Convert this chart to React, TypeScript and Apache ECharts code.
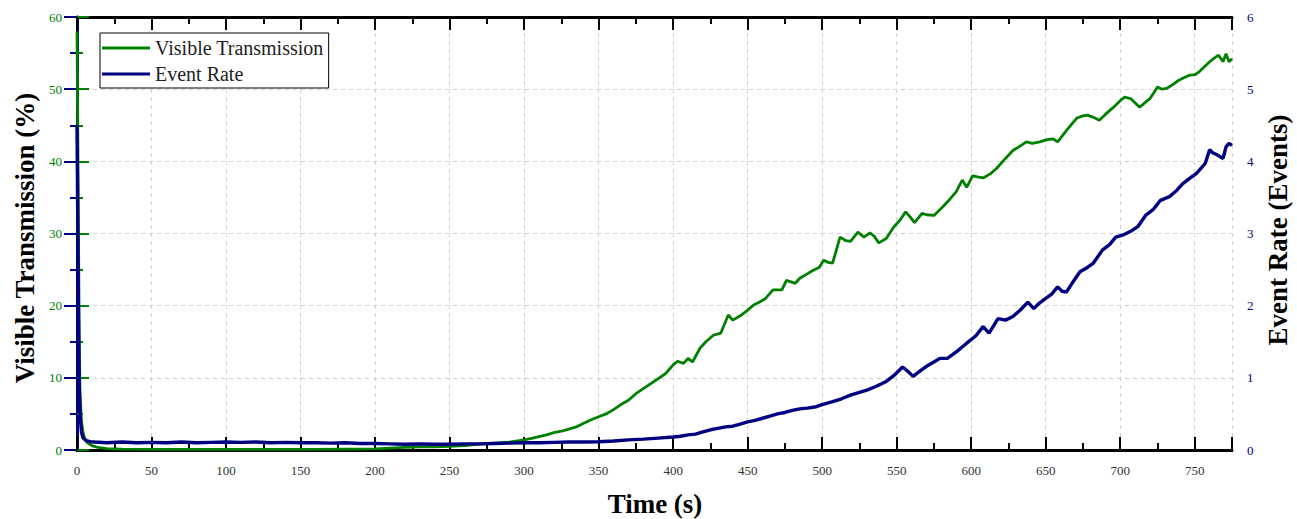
import React, { useEffect, useRef } from "react";
import * as echarts from "echarts";

// Visible transmission (%) vs time (s)
const timeGreen = [
  0, 0.5, 1, 1.5, 2, 3, 4, 5, 7, 10, 14, 20, 30, 50, 80, 120, 160, 200, 210, 220, 230, 240, 250, 260, 270, 280, 290,
  300, 305, 310, 315, 320, 325, 330, 335, 340, 345, 350, 355, 360, 365, 370, 375, 380, 385, 390, 395, 400, 403, 407,
  410, 413, 418, 422, 427, 432, 437, 440, 445, 449, 454, 458, 462, 467, 473, 476, 482, 485, 490, 494, 498, 501, 504,
  507, 512, 516, 519, 524, 528, 532, 535, 538, 543, 548, 552, 556, 559, 562, 567, 570, 575, 581, 585, 590, 594, 597,
  601, 605, 608, 613, 617, 623, 628, 632, 637, 641, 646, 651, 655, 658, 664, 668, 671, 675, 678, 682, 686, 690, 695,
  700, 703, 707, 713, 717, 720, 725, 728, 731, 735, 739, 742, 746, 750, 753, 757, 760, 763, 766, 769, 771, 773, 775,
];
const transmission = [
  58, 45, 30, 16, 8, 4, 2.5, 1.7, 1.0, 0.6, 0.35, 0.2, 0.12, 0.1, 0.1, 0.1, 0.1, 0.15, 0.25, 0.35, 0.45, 0.45, 0.5,
  0.6, 0.8, 0.95, 1.1, 1.4, 1.6, 1.85, 2.1, 2.4, 2.6, 2.9, 3.2, 3.7, 4.2, 4.6, 5.0, 5.6, 6.3, 6.9, 7.8, 8.5, 9.2,
  9.9, 10.6, 11.8, 12.3, 12.0, 12.7, 12.2, 14.1, 15.0, 15.9, 16.2, 18.7, 18.0, 18.6, 19.2, 20.1, 20.5, 21.0, 22.2,
  22.2, 23.5, 23.1, 23.8, 24.4, 24.9, 25.3, 26.3, 26.0, 25.9, 29.5, 29.0, 28.9, 30.2, 29.5, 30.1, 29.6, 28.7, 29.3,
  30.9, 31.8, 33.0, 32.3, 31.5, 32.8, 32.6, 32.5, 33.7, 34.6, 35.8, 37.4, 36.4, 38.0, 37.8, 37.7, 38.3, 39.0, 40.4,
  41.5, 42.0, 42.7, 42.5, 42.7, 43.0, 43.1, 42.7, 44.3, 45.3, 46.0, 46.3, 46.4, 46.1, 45.7, 46.5, 47.4, 48.4, 48.9,
  48.7, 47.5, 48.2, 48.7, 50.3, 50.0, 50.1, 50.6, 51.2, 51.5, 51.9, 52.0, 52.4, 53.2, 53.8, 54.3, 54.7, 53.8, 54.9,
  53.8, 54.2,
];

// Event rate (events) vs time (s)
const timeRate = [
  0, 0.5, 1, 1.5, 2, 3, 4, 6, 9, 12, 20, 30, 40, 50, 60, 70, 80, 90, 100, 110, 120, 130, 140, 150, 160, 170, 180, 190,
  200, 210, 220, 230, 240, 250, 260, 270, 280, 290, 300, 310, 320, 330, 340, 350, 360, 370, 380, 390, 400, 405, 410,
  415, 420, 425, 430, 435, 440, 445, 450, 455, 460, 465, 470, 475, 480, 485, 490, 496, 500, 507, 513, 519, 525, 530,
  536, 543, 548, 554, 558, 561, 566, 570, 575, 579, 584, 590, 597, 603, 608, 612, 618, 623, 628, 633, 638, 642, 646,
  650, 654, 658, 661, 664, 668, 673, 678, 682, 688, 693, 697, 702, 707, 712, 717, 722, 727, 733, 738, 742, 747, 751,
  754, 757, 760, 762, 765, 769, 771, 773, 775,
];
const eventRate = [
  4.5, 3.2, 1.8, 0.9, 0.5, 0.25, 0.17, 0.13, 0.115, 0.11, 0.1, 0.11, 0.1, 0.105, 0.1, 0.11, 0.1, 0.105, 0.11, 0.105,
  0.11, 0.1, 0.105, 0.1, 0.1, 0.095, 0.1, 0.09, 0.09, 0.085, 0.08, 0.085, 0.08, 0.08, 0.085, 0.085, 0.09, 0.095, 0.1,
  0.1, 0.105, 0.11, 0.11, 0.115, 0.125, 0.14, 0.15, 0.165, 0.18, 0.19, 0.21, 0.22, 0.25, 0.28, 0.3, 0.32, 0.33, 0.36,
  0.39, 0.41, 0.44, 0.47, 0.5, 0.52, 0.55, 0.57, 0.58, 0.6, 0.63, 0.67, 0.71, 0.76, 0.8, 0.83, 0.88, 0.95, 1.03, 1.15,
  1.08, 1.02, 1.1, 1.16, 1.22, 1.27, 1.27, 1.36, 1.48, 1.58, 1.71, 1.62, 1.82, 1.8, 1.85, 1.94, 2.05, 1.96, 2.04, 2.1,
  2.16, 2.26, 2.2, 2.19, 2.32, 2.47, 2.53, 2.59, 2.77, 2.85, 2.95, 2.98, 3.03, 3.1, 3.25, 3.33, 3.46, 3.51, 3.6, 3.69,
  3.77, 3.83, 3.9, 3.97, 4.16, 4.12, 4.09, 4.04, 4.2, 4.25, 4.22,
];

const seriesNames = ["Visible Transmission", "Event Rate"];
const titles = { x: "Time (s)", left: "Visible Transmission (%)", right: "Event Rate (Events)" };

const GREEN = "#008000";
const NAVY = "#000080";
const SERIF = '"Liberation Serif", "Times New Roman", serif';

export default function App() {
  const ref = useRef<HTMLDivElement>(null);
  useEffect(() => {
    document.body.style.margin = "0";
    if (!ref.current) return;
    const chart = echarts.init(ref.current, null, { renderer: "svg" });
    const labelFmt = (v: number) => (v % 50 === 0 ? String(v) : "");
    const xBase = {
      type: "value",
      min: 0,
      max: 775,
      gridIndex: 0,
    };
    chart.setOption({
      animation: false,
      backgroundColor: "#fff",
      grid: { left: 77, right: 65, top: 17, bottom: 69, containLabel: false },
      legend: {
        orient: "vertical",
        left: 100,
        top: 33,
        data: seriesNames,
        icon: "rect",
        itemWidth: 48,
        itemHeight: 3,
        itemGap: 6,
        padding: [5, 5, 4, 2],
        borderColor: "#000",
        borderWidth: 1,
        backgroundColor: "#fff",
        textStyle: { fontFamily: SERIF, fontSize: 20, color: "#222" },
      },
      xAxis: [
        {
          ...xBase,
          position: "bottom",
          interval: 25,
          axisLine: { show: true, lineStyle: { color: "#000", width: 3 } },
          axisTick: { show: true, inside: true, length: 7, lineStyle: { color: "#000", width: 2 } },
          axisLabel: { formatter: labelFmt, color: "#333", fontFamily: SERIF, fontSize: 13, margin: 14 },
          splitLine: { show: false },
        },
        {
          ...xBase,
          position: "bottom",
          interval: 50,
          axisLine: { show: false },
          axisTick: { show: true, inside: true, length: 13, lineStyle: { color: "#000", width: 2 } },
          axisLabel: { show: false },
          splitLine: { show: true, lineStyle: { color: "#d0d0d0", width: 1, type: [4, 4] } },
        },
        {
          ...xBase,
          position: "top",
          interval: 25,
          axisLine: { show: true, lineStyle: { color: "#000", width: 3 } },
          axisTick: { show: true, inside: true, length: 7, lineStyle: { color: "#000", width: 2 } },
          axisLabel: { show: false },
          splitLine: { show: false },
        },
        {
          ...xBase,
          position: "top",
          interval: 50,
          axisLine: { show: false },
          axisTick: { show: true, inside: true, length: 13, lineStyle: { color: "#000", width: 2 } },
          axisLabel: { show: false },
          splitLine: { show: false },
        },
      ],
      yAxis: [
        {
          type: "value",
          position: "left",
          min: 0,
          max: 60,
          interval: 10,
          axisLine: { show: true, lineStyle: { color: GREEN, width: 3 } },
          axisTick: { show: true, inside: true, length: 12, lineStyle: { color: GREEN, width: 2 } },
          minorTick: { show: true, splitNumber: 2, length: 6, lineStyle: { color: GREEN, width: 2 } },
          axisLabel: { color: GREEN, fontFamily: SERIF, fontSize: 13, margin: 15 },
          splitLine: { show: true, lineStyle: { color: "#d0d0d0", width: 1, type: [4, 4] } },
        },
        {
          type: "value",
          position: "right",
          min: 0,
          max: 6,
          interval: 1,
          axisLine: { show: true, lineStyle: { color: NAVY, width: 3 } },
          axisTick: { show: true, inside: true, length: 13, lineStyle: { color: NAVY, width: 2 } },
          minorTick: { show: true, splitNumber: 2, length: 7, lineStyle: { color: NAVY, width: 2 } },
          axisLabel: { color: NAVY, fontFamily: SERIF, fontSize: 13, margin: 15 },
          splitLine: { show: false },
        },
      ],
      series: [
        {
          name: seriesNames[0],
          type: "line",
          xAxisIndex: 0,
          yAxisIndex: 0,
          showSymbol: false,
          symbol: "none",
          color: GREEN,
          lineStyle: { color: GREEN, width: 2.8 },
          data: timeGreen.map((t, i) => [t, transmission[i]]),
          z: 3,
        },
        {
          name: seriesNames[1],
          type: "line",
          xAxisIndex: 0,
          yAxisIndex: 1,
          showSymbol: false,
          symbol: "none",
          color: NAVY,
          lineStyle: { color: NAVY, width: 3.4 },
          data: timeRate.map((t, i) => [t, eventRate[i]]),
          z: 4,
        },
      ],
      graphic: [
        {
          type: "text",
          x: 25,
          y: 238,
          rotation: Math.PI / 2,
          style: {
            text: titles.left,
            font: `bold 27px ${SERIF}`,
            fill: "#000",
            align: "center",
            verticalAlign: "middle",
          },
        },
        {
          type: "text",
          x: 1278,
          y: 230,
          rotation: Math.PI / 2,
          style: {
            text: titles.right,
            font: `bold 27px ${SERIF}`,
            fill: "#000",
            align: "center",
            verticalAlign: "middle",
          },
        },
        {
          type: "text",
          x: 655,
          y: 504,
          style: {
            text: titles.x,
            font: `bold 27px ${SERIF}`,
            fill: "#000",
            align: "center",
            verticalAlign: "middle",
          },
        },
      ],
    });
    return () => chart.dispose();
  }, []);
  return <div ref={ref} style={{ width: 1297, height: 519 }} />;
}
